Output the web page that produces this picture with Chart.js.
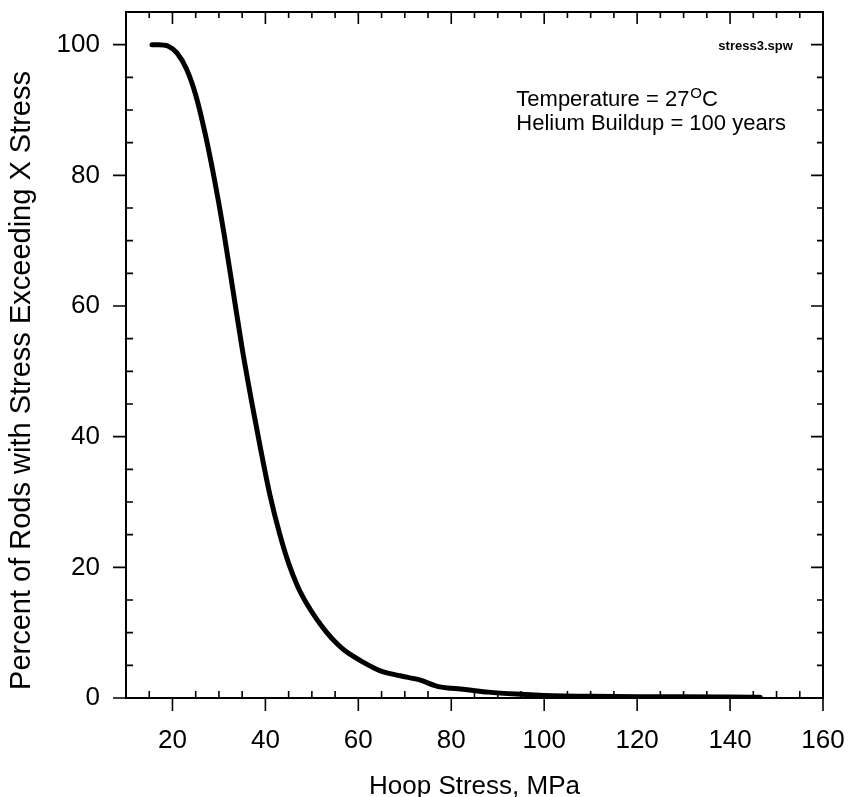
<!DOCTYPE html>
<html>
<head>
<meta charset="utf-8">
<title>Hoop stress distribution</title>
<script src="https://cdn.jsdelivr.net/npm/chart.js@4.4.1/dist/chart.umd.min.js"></script>
<style>
  html, body { margin: 0; padding: 0; background: #fff; }
  #wrap { width: 850px; height: 797px; position: relative; }
</style>
</head>
<body>
<div id="wrap"><canvas id="stressChart"></canvas></div>
<script>
// Curve: hoop stress (MPa) vs percent of rods exceeding it
const stressMPa = [15.6, 17, 19, 21, 23, 25, 27, 29, 31, 33, 35, 37, 39, 41, 43, 45, 47, 49, 51, 53,
                   55, 57, 61, 64.6, 69, 73, 77.5, 80, 83, 88, 94, 100, 110, 120, 130, 140, 146.5];
const percentExceeding = [100, 100, 99.8, 98.7, 96.3, 92.3, 86.5, 79.5, 71.5, 62.5, 53.5, 45.5, 38, 31, 25.3, 20.6, 17, 14.3, 12.1, 10.2,
                          8.6, 7.3, 5.5, 4.2, 3.4, 2.8, 1.7, 1.5, 1.3, 0.9, 0.6, 0.4, 0.25, 0.2, 0.2, 0.15, 0.1];

// Labelled ticks on each axis
const xTickLabels = [20, 40, 60, 80, 100, 120, 140, 160];
const yTickLabels = [0, 20, 40, 60, 80, 100];

const fontFamily = "'Liberation Sans', Arial, Helvetica, sans-serif";

// Frame, inside/outside tick marks and the text notes
const frameTicks = {
    id: 'frameTicks',
    afterDraw(chart) {
        const { ctx, chartArea: a, scales: { x, y } } = chart;
        ctx.save();
        ctx.strokeStyle = '#000';
        ctx.lineWidth = 2;
        ctx.strokeRect(a.left, a.top, a.right - a.left, a.bottom - a.top);

        ctx.lineWidth = 1.6;
        ctx.beginPath();
        x.ticks.forEach(t => {
            const px = x.getPixelForValue(t.value);
            if (xTickLabels.includes(t.value)) {
                ctx.moveTo(px, a.bottom); ctx.lineTo(px, a.bottom + 13);
                ctx.moveTo(px, a.top); ctx.lineTo(px, a.top + 12);
            } else {
                ctx.moveTo(px, a.bottom); ctx.lineTo(px, a.bottom - 7);
                ctx.moveTo(px, a.top); ctx.lineTo(px, a.top + 6);
            }
        });
        y.ticks.forEach(t => {
            const py = y.getPixelForValue(t.value);
            if (yTickLabels.includes(t.value)) {
                ctx.moveTo(a.left, py); ctx.lineTo(a.left - 13, py);
                ctx.moveTo(a.right, py); ctx.lineTo(a.right - 12, py);
            } else {
                ctx.moveTo(a.left, py); ctx.lineTo(a.left + 7, py);
                ctx.moveTo(a.right, py); ctx.lineTo(a.right - 6, py);
            }
        });
        ctx.stroke();

        // notes, anchored in data coordinates
        ctx.fillStyle = '#000';
        ctx.textBaseline = 'alphabetic';
        ctx.font = 'bold 13px ' + fontFamily;
        ctx.textAlign = 'right';
        ctx.fillText('stress3.spw', x.getPixelForValue(153.5), y.getPixelForValue(99.2));

        ctx.textAlign = 'left';
        const tx = x.getPixelForValue(94);
        const ty1 = y.getPixelForValue(90.6);
        const ty2 = y.getPixelForValue(86.9);
        ctx.font = '22px ' + fontFamily;
        const part = 'Temperature = 27';
        ctx.fillText(part, tx, ty1);
        const w = ctx.measureText(part).width;
        ctx.font = '15px ' + fontFamily;
        ctx.fillText('O', tx + w + 1, ty1 - 8);
        const wo = ctx.measureText('O').width;
        ctx.font = '22px ' + fontFamily;
        ctx.fillText('C', tx + w + wo + 1, ty1);
        ctx.fillText('Helium Buildup = 100 years', tx, ty2);
        ctx.restore();
    }
};

// drop the extra room Chart.js keeps for overhanging tick labels
function fixX(scale) {
    scale.height = 99;
    scale.paddingLeft = 0;
    scale.paddingRight = 0;
}
function fixY(scale) {
    scale.width = 126;
    scale.paddingTop = 0;
    scale.paddingBottom = 0;
}

const ctx = document.getElementById('stressChart').getContext('2d');
const stressChart = new Chart(ctx, {
    type: 'line',
    data: {
        datasets: [{
            label: 'Percent exceeding',
            data: stressMPa.map((s, i) => ({ x: s, y: percentExceeding[i] })),
            borderColor: '#000',
            borderWidth: 5,
            borderCapStyle: 'round',
            borderJoinStyle: 'round',
            cubicInterpolationMode: 'monotone',
            pointRadius: 0,
            fill: false
        }]
    },
    options: {
        responsive: true,
        maintainAspectRatio: false,
        animation: false,
        devicePixelRatio: 1,
        layout: { padding: { top: 12, right: 27, left: 0, bottom: 0 } },
        plugins: {
            legend: { display: false },
            tooltip: { enabled: false }
        },
        scales: {
            x: {
                type: 'linear',
                min: 10,
                max: 160,
                grid: { display: false, drawTicks: false },
                border: { display: false },
                ticks: {
                    stepSize: 5,
                    autoSkip: false,
                    maxRotation: 0,
                    padding: 27,
                    color: '#000',
                    font: { family: fontFamily, size: 26 },
                    callback: v => xTickLabels.includes(v) ? String(v) : ''
                },
                title: {
                    display: true,
                    text: 'Hoop Stress, MPa',
                    color: '#000',
                    font: { family: fontFamily, size: 26, lineHeight: 0.77 },
                    padding: 0
                },
                afterFit: fixX
            },
            y: {
                type: 'linear',
                min: 0,
                max: 105,
                grid: { display: false, drawTicks: false },
                border: { display: false },
                ticks: {
                    stepSize: 5,
                    autoSkip: false,
                    padding: 26,
                    color: '#000',
                    font: { family: fontFamily, size: 26 },
                    callback: v => yTickLabels.includes(v) ? String(v) : ''
                },
                title: {
                    display: true,
                    align: 'start',
                    text: ' Percent of Rods with Stress Exceeding X Stress',
                    color: '#000',
                    font: { family: fontFamily, size: 29 },
                    padding: { top: 5, bottom: 0 }
                },
                afterFit: fixY
            }
        }
    },
    plugins: [frameTicks]
});
</script>
</body>
</html>
